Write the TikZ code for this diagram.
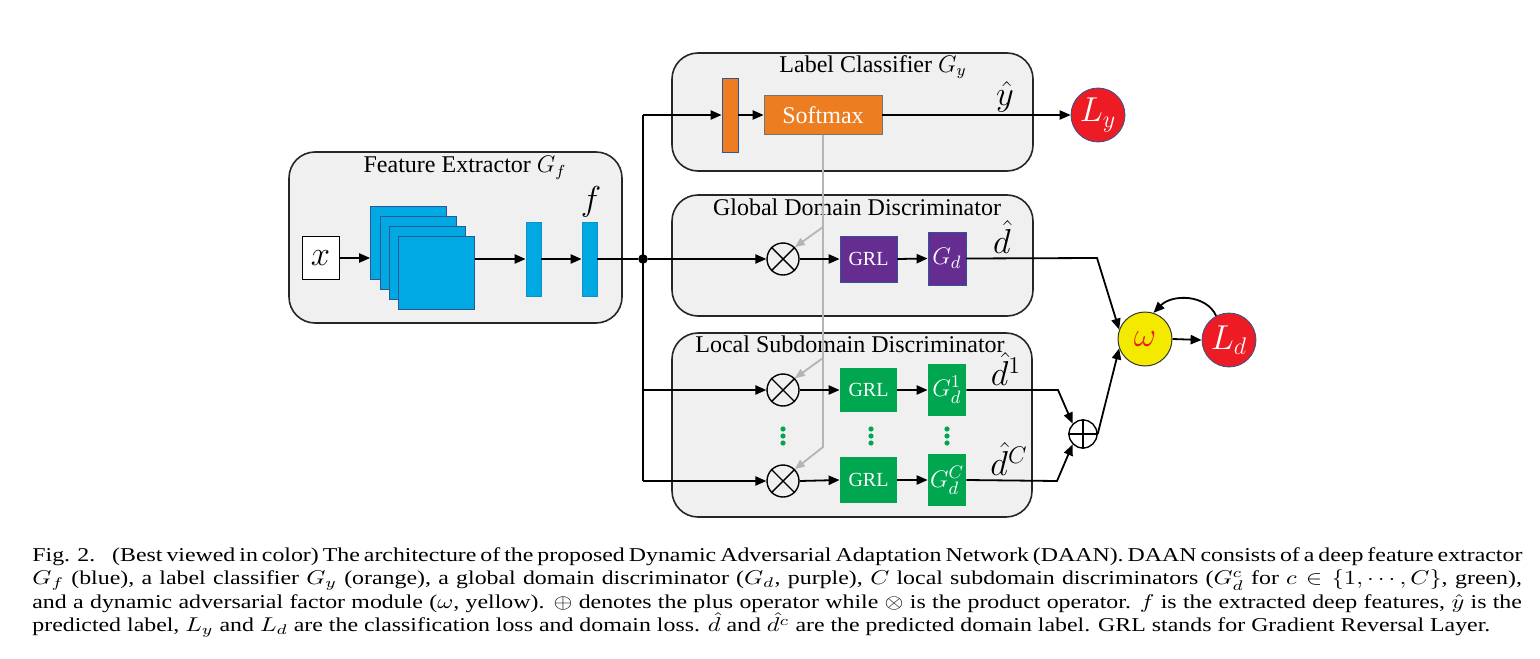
\documentclass[tikz,border=0pt]{standalone}
\usepackage{graphicx}
\usepackage{fontspec}
\setmainfont{Liberation Serif}
\usetikzlibrary{arrows.meta}
\definecolor{panelgray}{HTML}{F0F0F0}
\definecolor{cyanc}{HTML}{00A9E2}
\definecolor{bluedark}{HTML}{2E5597}
\definecolor{orangec}{HTML}{ED7D21}
\definecolor{purplec}{HTML}{662D91}
\definecolor{greenc}{HTML}{00A650}
\definecolor{redc}{HTML}{ED1C24}
\definecolor{yellowc}{HTML}{F4EA00}
\definecolor{grayline}{HTML}{B4B4B4}
\newcommand{\capfont}{\fontsize{9.8}{11.75}\selectfont}
\newcommand{\ttlfont}{\fontsize{12}{14}\selectfont}
\newcommand{\mfont}{\fontsize{17}{20}\selectfont}
\newcommand{\capline}[1]{\scalebox{1.217}[1]{\makebox[612pt][s]{#1}}}
\begin{document}
\begin{tikzpicture}[x=0.5pt,y=-0.5pt,
  panel/.style={draw=black!85, line width=0.8pt, fill=panelgray, rounded corners=13pt, inner sep=0pt},
  ttl/.style={font=\ttlfont, inner sep=0pt},
  mlabel/.style={font=\mfont, inner sep=0pt},
  arr/.style={-{Triangle[length=5.5pt,width=4.6pt]}, line width=0.9pt},
  garr/.style={-{Triangle[length=5pt,width=4pt]}, draw=grayline, line width=0.9pt},
  cube/.style={fill=cyanc, draw=bluedark, line width=0.4pt, minimum width=38pt, minimum height=36.5pt, inner sep=0pt},
  fbar/.style={fill=cyanc, draw=cyanc!70!bluedark, line width=0.4pt, minimum width=7.5pt, minimum height=37pt, inner sep=0pt},
  blk/.style={inner sep=0pt, text=white, line width=0.4pt},
  opc/.style={circle, draw, line width=0.7pt, minimum size=16pt, inner sep=0pt},
  capl/.style={anchor=base west, inner sep=0pt, font=\capfont},
  loss/.style={circle, draw=bluedark, line width=0.4pt, fill=redc, minimum size=27pt, inner sep=0pt, text=white, font=\mfont}]
\useasboundingbox (0,0) rectangle (1540,658);

% panels
\node[panel, minimum width=166.5pt, minimum height=85.5pt] (fe) at (455.5,237.5) {};
\node[panel, minimum width=180.5pt, minimum height=59pt] (lc) at (852.5,112) {};
\node[panel, minimum width=180.5pt, minimum height=60.5pt] (gdp) at (852.5,255.5) {};
\node[panel, minimum width=180pt, minimum height=92pt] (lsp) at (852,425) {};

% titles
\node[ttl] (fetitle) at (465,168) {Feature Extractor $G_f$};
\node[ttl] (lctitle) at (873,67) {Label Classifier $G_y$};
\node[ttl] (gdtitle) at (857,207) {Global Domain Discriminator};
\node[ttl] (lstitle) at (850,344) {Local Subdomain Discriminator};

% feature extractor
\node[draw, fill=white, line width=0.5pt, minimum width=18.5pt, minimum height=21.5pt, inner sep=0pt, font=\mfont] (x) at (320.5,258) {$x$};
\node[cube] (s1) at (408.5,243) {};
\node[cube] (s2) at (418,253) {};
\node[cube] (s3) at (427.5,263) {};
\node[cube] (s4) at (436.5,273) {};
\node[fbar] (b1) at (533.5,259) {};
\node[fbar] (b2) at (589.5,259) {};
\node[mlabel] (flab) at (591,202) {$f$};
\node[circle, fill=black, inner sep=0pt, minimum size=4.8pt] (j) at (643,259) {};
\coordinate (tt) at (643,115);
\coordinate (t1) at (643,390);
\coordinate (tb) at (643,481);

% label classifier
\node[fill=orangec, draw=bluedark, line width=0.4pt, minimum width=8pt, minimum height=37pt, inner sep=0pt] (ob) at (730,115) {};
\node[blk, fill=orangec, draw=black!55, minimum width=59pt, minimum height=19.5pt, font=\ttlfont] (sm) at (823,115) {Softmax};
\node[loss] (Ly) at (1098,115) {$L_y$};
\node[mlabel] (yh) at (1005,97) {$\hat{y}$};

% global domain discriminator
\node[opc] (og) at (783,259) {};
\node[blk, fill=purplec, draw=bluedark, minimum width=28.5pt, minimum height=23pt, font=\fontsize{10}{12}\selectfont] (grl0) at (868.5,259) {GRL};
\node[blk, fill=purplec, draw=bluedark, minimum width=19pt, minimum height=26.5pt, font=\fontsize{13}{15}\selectfont] (gd0) at (947,258.5) {$G_d$};
\node[mlabel] (dh0) at (1002,237) {$\hat{d}$};

% local subdomain discriminator
\node[opc] (ol1) at (783,390) {};
\node[opc] (ol2) at (783,481) {};
\node[blk, fill=greenc, minimum width=28.5pt, minimum height=22pt, font=\fontsize{10}{12}\selectfont] (grl1) at (868.5,390) {GRL};
\node[blk, fill=greenc, minimum width=28.5pt, minimum height=23pt, font=\fontsize{10}{12}\selectfont] (grl2) at (868.5,480) {GRL};
\node[blk, fill=greenc, minimum width=19pt, minimum height=26pt, font=\fontsize{13}{15}\selectfont] (g1) at (947,390) {$G_d^1$};
\node[blk, fill=greenc, minimum width=19pt, minimum height=26pt, font=\fontsize{13}{15}\selectfont] (g2) at (947,480) {$G_d^C$};
\node[mlabel] (dh1) at (1006,369) {$\hat{d}^1$};
\node[mlabel] (dhC) at (1009,459) {$\hat{d}^C$};
\foreach \xx in {783,871,947} {
  \foreach \yy in {429,436,443} {\fill[greenc] (\xx,\yy) circle[radius=1.3pt];}
}

% combination
\node[opc, minimum size=14pt] (op) at (1083,434) {};
\node[circle, draw=black!80, line width=0.5pt, fill=yellowc, minimum size=27pt, inner sep=0pt, text=redc, font=\fontsize{19}{21}\selectfont] (om) at (1145,339) {$\omega$};
\node[loss] (Ld) at (1229,340) {$L_d$};
\coordinate (k0) at (1097,258);
\coordinate (k1) at (1058,390);
\coordinate (k2) at (1057,481);

% operator glyphs
\foreach \n in {og,ol1,ol2} {
  \draw[line width=0.7pt] (\n.north east) -- (\n.south west) (\n.north west) -- (\n.south east);
}
\draw[line width=0.7pt] (op.north) -- (op.south) (op.west) -- (op.east);

% gray attention path
\coordinate (gb) at (sm.south |- 0,447);
\coordinate (gg) at (sm.south |- 0,227);
\coordinate (g1c) at (sm.south |- 0,358);
\draw[garr] (sm.south) -- (gb) -- (ol2.north east);
\draw[garr] (gg) -- (og.north east);
\draw[garr] (g1c) -- (ol1.north east);

% black connectors
\draw[arr] (x.east) -- (x.east -| s1.west);
\draw[arr] (s4.east |- b1) -- (b1.west);
\draw[arr] (b1.east) -- (b2.west);
\draw[line width=0.9pt] (b2.east) -- (j);
\draw[line width=0.9pt] (tt) -- (tb);
\draw[arr] (tt) -- (ob.west);
\draw[arr] (ob.east) -- (sm.west);
\draw[arr] (sm.east) -- (Ly.west);
\draw[arr] (j) -- (og.west);
\draw[arr] (og.east) -- (grl0.west);
\draw[arr] (grl0.east) -- (gd0.west);
\draw[arr] (t1) -- (ol1.west);
\draw[arr] (tb) -- (ol2.west);
\draw[arr] (ol1.east) -- (grl1.west);
\draw[arr] (ol2.east) -- (grl2.west);
\draw[arr] (grl1.east) -- (g1.west);
\draw[arr] (grl2.east) -- (g2.west);
\draw[arr] (gd0.east) -- (k0) -- (om.160);
\draw[arr] (g1.east) -- (k1) -- (op.135);
\draw[arr] (g2.east) -- (k2) -- (op.225);
\draw[arr] (op.east) -- (om.200);
\draw[arr] (om.east) -- (Ld.west);
\draw[arr] (Ld.118) .. controls (1206,294) and (1172,294) .. (om.72);

% caption
\node[capl] (cap1) at (32,561) {\capline{Fig. 2.\hspace{0.4em} (Best viewed in color) The architecture of the proposed Dynamic Adversarial Adaptation Network (DAAN). DAAN consists of a deep feature extractor}};
\node[capl] (cap2) at (32,584.5) {\capline{$G_f$ (blue), a label classifier $G_y$ (orange), a global domain discriminator ($G_d$, purple), $C$ local subdomain discriminators ($G_d^c$ for $c\in\{1,\cdots,C\}$, green),}};
\node[capl] (cap3) at (32,608) {\capline{and a dynamic adversarial factor module ($\omega$, yellow). $\oplus$ denotes the plus operator while $\otimes$ is the product operator. $f$ is the extracted deep features, $\hat{y}$ is the}};
\node[capl] (cap4) at (32,631.5) {\scalebox{1.217}[1]{predicted label, $L_y$ and $L_d$ are the classification loss and domain loss. $\hat{d}$ and $\hat{d^c}$ are the predicted domain label. GRL stands for Gradient Reversal Layer.}};
\end{tikzpicture}
\end{document}
